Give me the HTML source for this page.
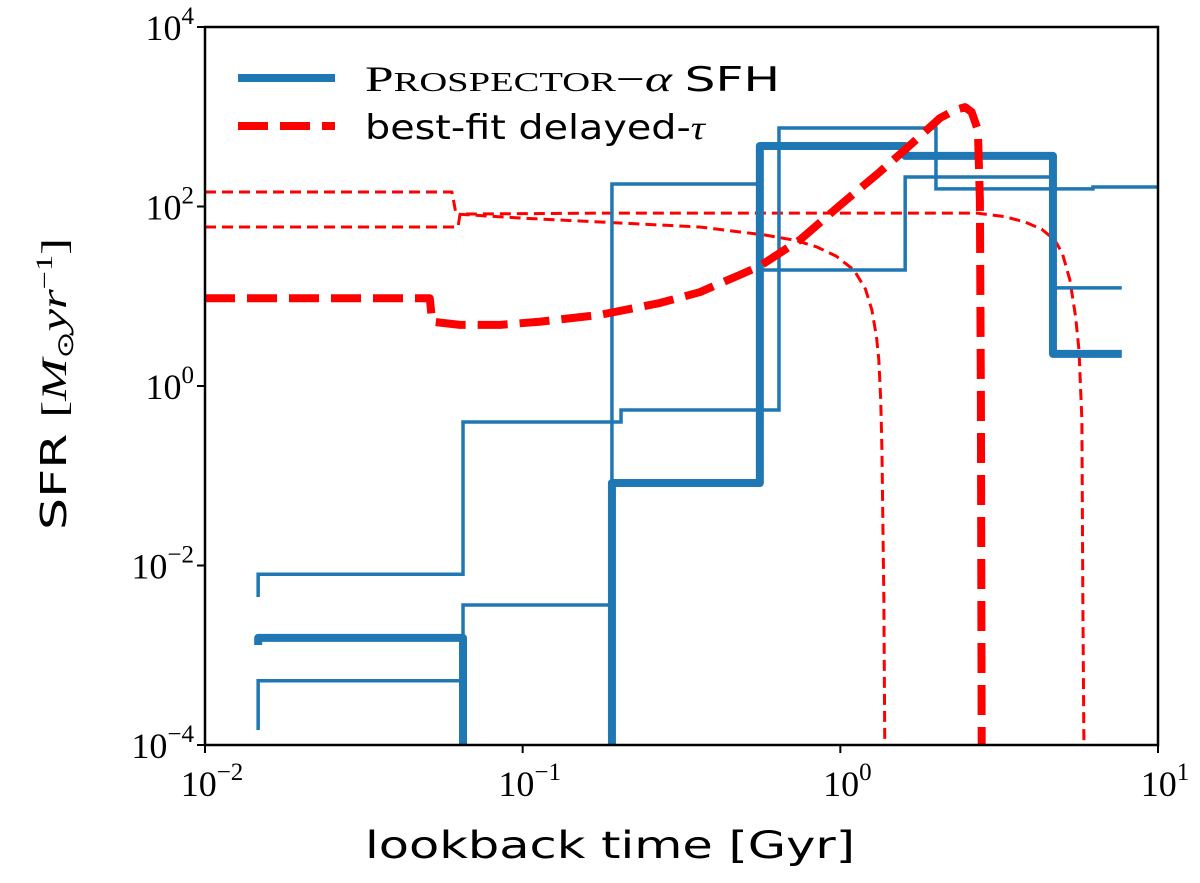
<!DOCTYPE html>
<html><head><meta charset="utf-8"><style>
html,body{margin:0;padding:0;background:#fff;}
svg text{font-family:"Liberation Serif",serif;}
</style></head><body>
<svg id="chart" width="1200" height="878" viewBox="0 0 1200 878" xmlns="http://www.w3.org/2000/svg">
<defs><clipPath id="clip"><rect x="205" y="27" width="953" height="718"/></clipPath></defs>
<g id="marks" clip-path="url(#clip)"></g>
<g id="axes"></g>
<rect x="205" y="27" width="953" height="718" fill="none" stroke="#000" stroke-width="2.5"/>
<text x="365" y="858" font-size="37" textLength="490" lengthAdjust="spacingAndGlyphs" style="font-family:'DejaVu Sans','Liberation Sans',sans-serif">lookback time [Gyr]</text>
<text transform="translate(66,530) rotate(-90)" font-size="36" textLength="292" lengthAdjust="spacingAndGlyphs"><tspan style="font-family:'DejaVu Sans',sans-serif">SFR </tspan><tspan>[</tspan><tspan font-style="italic">M</tspan><tspan font-size="23" dy="7">⊙</tspan><tspan dy="-7" font-style="italic">yr</tspan><tspan font-size="23" dy="-14">−1</tspan><tspan dy="14">]</tspan></text>
<g>
<line x1="238" y1="78" x2="335" y2="78" stroke="#1f77b4" stroke-width="8"/>
<text x="365" y="91" font-size="36" textLength="415" lengthAdjust="spacingAndGlyphs">P<tspan font-size="27">ROSPECTOR</tspan>−<tspan font-style="italic">α</tspan> <tspan style="font-family:'DejaVu Sans',sans-serif" font-size="34">SFH</tspan></text>
<line x1="238" y1="126" x2="335" y2="126" stroke="#ff0000" stroke-width="8" stroke-dasharray="30,12"/>
<text x="365" y="139" font-size="34" textLength="340" lengthAdjust="spacingAndGlyphs"><tspan style="font-family:'DejaVu Sans',sans-serif">best-fit delayed-</tspan><tspan font-style="italic">τ</tspan></text>
</g>
</svg>
<script>
// data
const xTicks=[0.01,0.1,1,10];
const xTickExp=["−2","−1","0","1"];
const yTicks=[1e-4,1e-2,1,1e2,1e4];
const yTickExp=["−4","−2","0","2","4"];
// Prospector median (thick)
const medEdges=[0.0147,0.0649,0.191,0.558,1.60,4.67,7.69];
const medStart=0.0013;
const medVals=[0.00156,1e-6,0.083,472,366,2.28];
// percentile band lines (thin)
const loEdges=[0.0147,0.0649,0.191,0.558,1.60,4.67,7.69];
const loStart=1.47e-4;
const loVals=[5.2e-4,0.00363,178,19.6,213,12.4];
const hiEdges=[0.0147,0.0649,0.204,0.641,2.00,6.24,10];
const hiStart=0.00446;
const hiVals=[0.0080,0.397,0.541,750,157,165];
// best-fit delayed tau (thick dashed)
const tauT=[0.01,0.051,0.0519,0.0635,0.085,0.113,0.175,0.27,0.361,0.483,0.558,0.746,1.0,1.33,1.66,2.06,2.30,2.47,2.59,2.71,2.75,2.77,2.79];
const tauSFR=[9.5,9.5,5.2,4.8,4.8,5.2,6.2,8.4,11.1,17.3,21.7,42.4,104,242,484,968,1190,1280,1130,711,118,0.7,1e-5];
// thin dashed curves
const r1T=[0.01,0.0599,0.0617,0.098,0.175,0.361,0.579,0.72,0.844,0.97,1.104,1.2,1.257,1.30,1.322,1.34,1.352,1.371,1.381];
const r1SFR=[145,145,82.4,74.4,67.2,59.1,48.1,42,35.4,28,19.6,12,7.03,3.5,1.95,0.7,0.194,0.00413,6.8e-5];
const r2T=[0.01,0.0626,0.0635,0.175,2.69,3.3,3.81,4.3,4.73,5.0,5.28,5.5,5.64,5.76,5.80,5.85];
const r2SFR=[59.1,59.1,82.4,84.3,84.3,77,67.2,56,42.4,30,15.2,6,2.52,0.418,0.00413,6.8e-5];

const X0=205,X1=1158,Y0=745,Y1=27;
function sx(v){return X0+(Math.log10(v)+2)/3*(X1-X0);}
function sy(v){return Y0-(Math.log10(v)+4)/8*(Y0-Y1);}
const NS="http://www.w3.org/2000/svg";
const marks=document.getElementById('marks'),axes=document.getElementById('axes');
function mk(tag,attrs,parent){const e=document.createElementNS(NS,tag);for(const k in attrs)e.setAttribute(k,attrs[k]);parent.appendChild(e);return e;}
function cy(v){return Math.min(Math.max(sy(v),-50),900);}
function stepPath(edges,start,vals){
  let d='M'+sx(edges[0])+','+cy(start)+' L'+sx(edges[0])+','+cy(vals[0]);
  for(let i=0;i<vals.length;i++){
    d+=' L'+sx(edges[i+1])+','+cy(vals[i]);
    if(i+1<vals.length)d+=' L'+sx(edges[i+1])+','+cy(vals[i+1]);
  }
  return d;
}
function linePath(t,s){return t.map((v,i)=>(i?'L':'M')+sx(v)+','+cy(s[i])).join(' ');}

let p;
p=mk('path',{d:linePath(r1T,r1SFR),fill:'none',stroke:'#ff0000','stroke-width':3,'stroke-dasharray':'11,6','stroke-linejoin':'round'},marks);


p=mk('path',{d:linePath(r2T,r2SFR),fill:'none',stroke:'#ff0000','stroke-width':3,'stroke-dasharray':'11,6','stroke-linejoin':'round'},marks);


p=mk('path',{d:stepPath(loEdges,loStart,loVals),fill:'none',stroke:'#1f77b4','stroke-width':3.5},marks);


p=mk('path',{d:stepPath(hiEdges,hiStart,hiVals),fill:'none',stroke:'#1f77b4','stroke-width':3.5},marks);


p=mk('path',{d:stepPath(medEdges,medStart,medVals),fill:'none',stroke:'#1f77b4','stroke-width':8,'stroke-linejoin':'round'},marks);


p=mk('path',{d:linePath(tauT,tauSFR),fill:'none',stroke:'#ff0000','stroke-width':8,'stroke-dasharray':'30,12','stroke-linejoin':'round'},marks);



// x ticks
xTicks.forEach((v,i)=>{
  const x=sx(v);
  const l=mk('line',{x1:x,y1:Y0,x2:x,y2:Y0+8,stroke:'#000','stroke-width':2},axes);
  
  
  const t=mk('text',{x:x+7,y:796,'text-anchor':'middle','font-size':36},axes);
  
  
  t.innerHTML='10<tspan font-size="25" dy="-16">'+xTickExp[i]+'</tspan>';
});
// y ticks
yTicks.forEach((v,i)=>{
  const y=sy(v);
  const l=mk('line',{x1:X0-8,y1:y,x2:X0,y2:y,stroke:'#000','stroke-width':2},axes);
  
  
  const t=mk('text',{x:194,y:y+13,'text-anchor':'end','font-size':36},axes);
  
  
  t.innerHTML='10<tspan font-size="25" dy="-16">'+yTickExp[i]+'</tspan>';
});
</script>
</body></html>
